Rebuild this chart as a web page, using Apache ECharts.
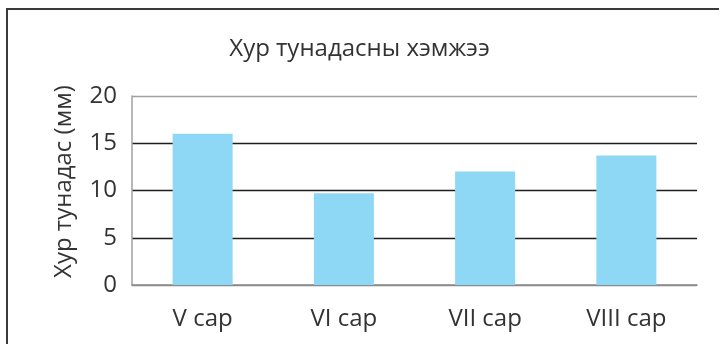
<!DOCTYPE html>
<html>
<head>
<meta charset="utf-8">
<script src="https://cdn.jsdelivr.net/npm/echarts@6/dist/echarts.min.js"></script>
<style>
  html, body { margin: 0; padding: 0; background: #fff; }
  #chart { width: 719px; height: 344px; }
</style>
</head>
<body>
<div id="chart"></div>
<script>
// Monthly precipitation, May–August
const months = ['V сар', 'VI сар', 'VII сар', 'VIII сар'];
const rainfall = [16, 9.7, 12, 13.7];
const yTicks = [0, 5, 10, 15, 20];

const FONT = '"Open Sans", "Noto Sans", sans-serif';
const chart = echarts.init(document.getElementById('chart'));

chart.setOption({
  animation: false,
  backgroundColor: '#fff',
  title: {
    text: 'Хур тунадасны хэмжээ',
    left: 'center',
    top: 32,
    textStyle: { fontFamily: FONT, fontSize: 24, fontWeight: 'normal', color: '#333' }
  },
  graphic: [{
    type: 'rect',
    shape: { x: 7, y: 9, width: 760, height: 400 },
    style: { fill: 'none', stroke: '#3a3a3a', lineWidth: 2 },
    silent: true
  }],
  grid: { left: 132, right: 22, top: 96, bottom: 59 },
  xAxis: {
    type: 'category',
    data: months,
    axisLine: { show: true, lineStyle: { color: '#8a8a8a', width: 1.5 } },
    axisTick: { show: false },
    axisLabel: { fontFamily: FONT, fontSize: 24, color: '#333', margin: 22 }
  },
  yAxis: {
    type: 'value',
    min: yTicks[0],
    max: yTicks[yTicks.length - 1],
    interval: 5,
    name: 'Хур тунадас (мм)',
    nameLocation: 'middle',
    nameGap: 56,
    nameTextStyle: { fontFamily: FONT, fontSize: 24, color: '#333', padding: [0, 0, 0, 18] },
    axisLine: { show: true, lineStyle: { color: '#a0a0a0', width: 1.5 } },
    axisTick: { show: false },
    axisLabel: { fontFamily: FONT, fontSize: 24, color: '#333', margin: 15 },
    splitLine: {
      show: true,
      lineStyle: { color: ['#8a8a8a', '#1e1e1e', '#1e1e1e', '#1e1e1e', '#a0a0a0'], width: 1.3 }
    }
  },
  series: [{
    type: 'bar',
    data: rainfall,
    barWidth: '42.5%',
    itemStyle: { color: '#8ed8f6' }
  }]
});
</script>
</body>
</html>
